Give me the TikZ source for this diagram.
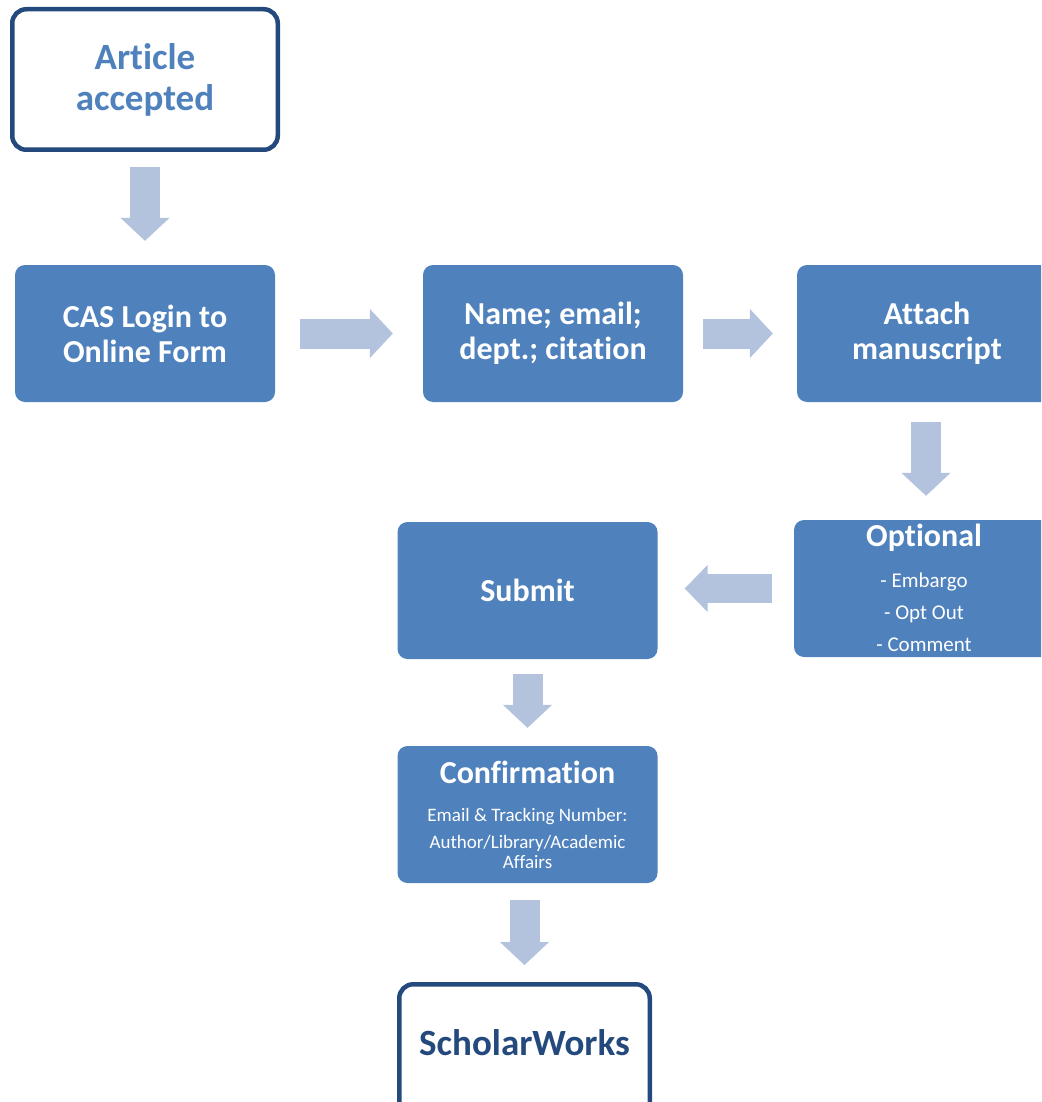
\documentclass[tikz,border=0pt]{standalone}
\usepackage{fontspec}
\setmainfont[RawFeature={-liga,-clig,-calt,-dlig}]{Carlito}
\usetikzlibrary{arrows.meta,calc}
\definecolor{boxblue}{RGB}{79,129,189}
\definecolor{arrowc}{RGB}{179,195,222}
\definecolor{darkblue}{RGB}{36,74,125}
\newcommand{\nlg}{\kern0pt}
\tikzset{
 fillbox/.style={fill=boxblue, rounded corners=10pt, minimum width=260pt, minimum height=137pt, inner sep=0pt, text=white, align=center, font=\bfseries\fontsize{32}{35}\selectfont},
 outlinebox/.style={draw=darkblue, line width=4.5pt, fill=white, rounded corners=14pt, inner sep=0pt, align=center, font=\bfseries\fontsize{37}{41}\selectfont},
 bigarrow/.style={draw=arrowc, line width=30pt, -{Triangle[length=23pt,width=49pt,line width=1pt]}},
 bigarrowb/.style={draw=arrowc, line width=29pt, -{Triangle[length=23pt,width=47pt,line width=1pt]}},
 subtext/.style={text=white, anchor=base, font=\fontsize{21}{24}\selectfont, inner sep=0pt},
 conftext/.style={text=white, anchor=base, font=\fontsize{19}{20}\selectfont, inner sep=0pt},
 titletext/.style={text=white, anchor=base, font=\bfseries\fontsize{32}{35}\selectfont, inner sep=0pt},
}
\begin{document}
\begin{tikzpicture}[x=1pt,y=-1pt]
\clip (0,0) rectangle (1041,1102);
\useasboundingbox (0,0) rectangle (1041,1102);
% boxes
\node[outlinebox, text=boxblue, minimum width=265.5pt, minimum height=140.5pt] (article) at (145,79.5) {Article\\accepted};
\node[fillbox] (cas) at (145,333.5) {CAS Login to\\Online Form};
\node[fillbox] (name) at (553,333.5) {Name; email;\\dept.; cit\nlg ation};
\node[fillbox] (attach) at (927,333.5) {At\nlg tach\\manuscript};
\node[fillbox] (optional) at (924,588.5) {};
\node[titletext] (opttitle) at (924,546) {Optional};
\node[subtext] (opt1) at (924,587) {- Embargo};
\node[subtext] (opt2) at (924,619) {- Opt Out};
\node[subtext] (opt3) at (924,651) {- Comment};
\node[fillbox] (submit) at (527.5,590.5) {Submit};
\node[fillbox] (confirm) at (527.5,814.5) {};
\node[titletext] (conftitle) at (527.5,783) {Conf\nlg irmat\nlg ion};
\node[conftext] (conf1) at (527.5,821) {Email \& Tracking Number:};
\node[conftext] (conf2) at (527.5,848) {Author/Library/Academic};
\node[conftext] (conf3) at (527.5,868) {Af\nlg fairs};
\node[outlinebox, minimum width=250.5pt, minimum height=150pt] (scholar) at (524.5,1059.25) {};
\node[text=darkblue, font=\bfseries\fontsize{37}{41}\selectfont, inner sep=0pt] (scholartext) at (524.5,1043) {ScholarWorks};
% arrows
\draw[bigarrow] ($(article.south)+(0,15)$) -- ($(cas.north)+(0,-24)$);
\draw[bigarrow] ($(cas.east)+(25,0)$) -- ($(name.west)+(-30,0)$);
\draw[bigarrow] ($(name.east)+(20,0)$) -- ($(attach.west)+(-24,0)$);
\draw[bigarrow] ($(attach.south)+(-1,20)$) -- ($(attach.south |- optional.north)+(-1,-24)$);
\draw[bigarrowb] ($(optional.west)+(-22,0)$) -- ($(optional.west -| submit.east)+(27,0)$);
\draw[bigarrow] ($(submit.south)+(0,15)$) -- ($(confirm.north)+(0,-18)$);
\draw[bigarrow] ($(confirm.south -| scholar.north)+(0,17)$) -- ($(scholar.north)+(0,-17)$);
\end{tikzpicture}
\end{document}
